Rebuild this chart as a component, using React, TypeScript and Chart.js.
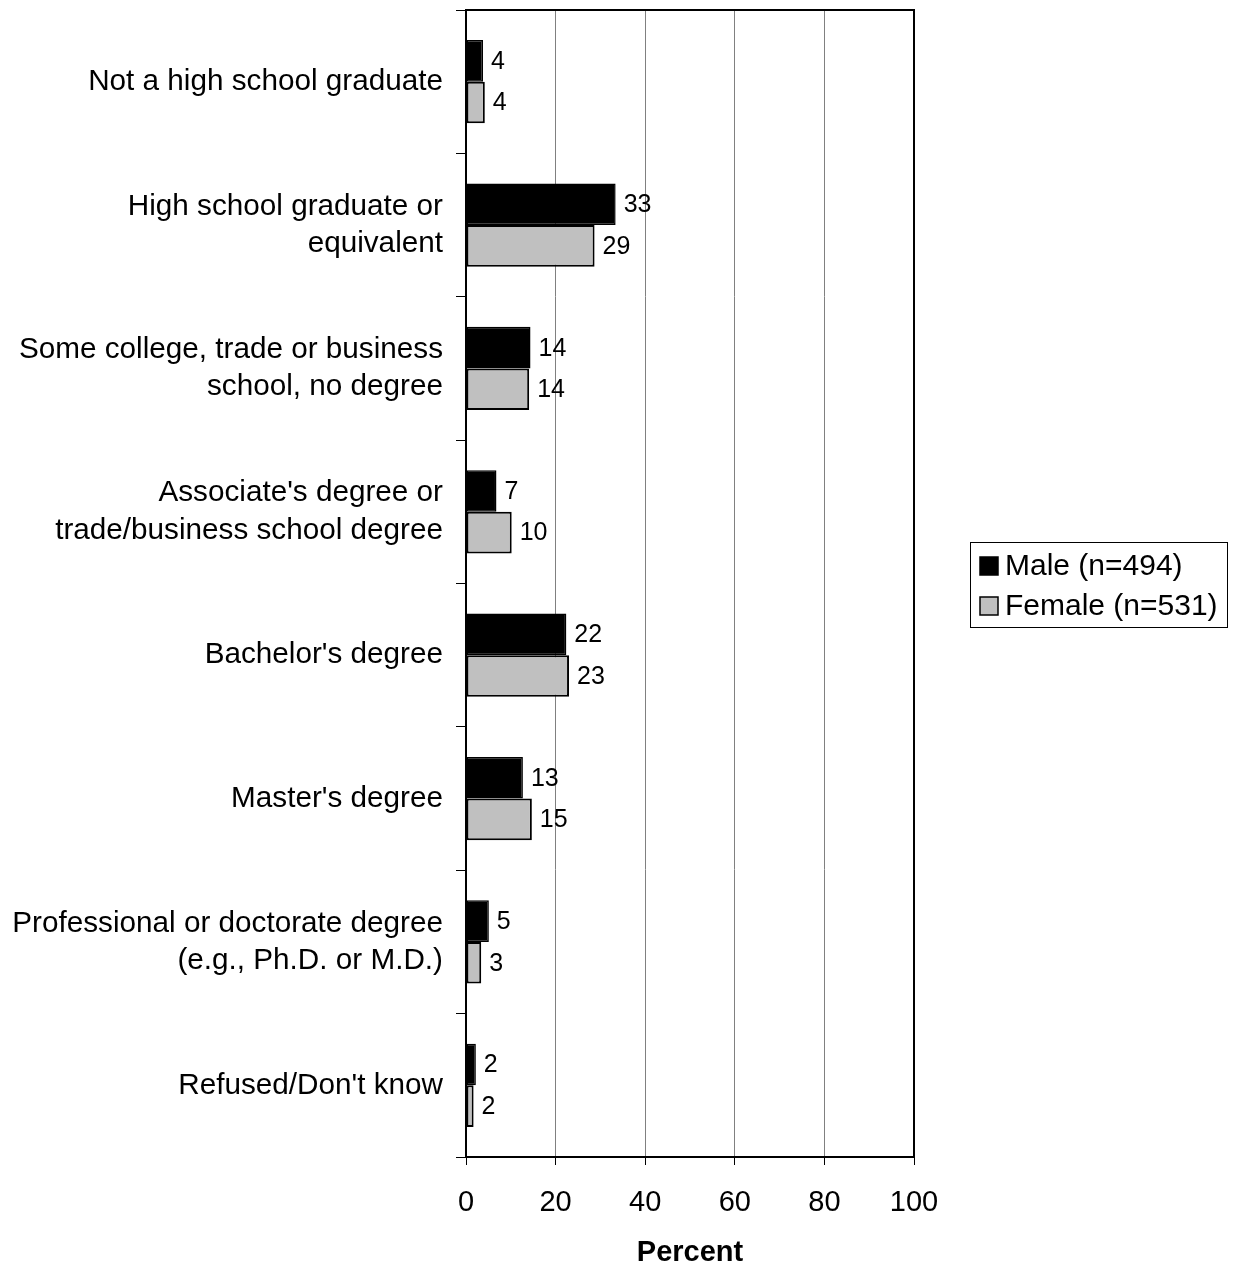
import React, { useEffect, useRef } from 'react';
import { Chart, registerables } from 'chart.js';

Chart.register(...registerables);

const categories: (string | string[])[] = [
  'Not a high school graduate',
  ['High school graduate or', 'equivalent'],
  ['Some college, trade or business', 'school, no degree'],
  ["Associate's degree or", 'trade/business school degree'],
  "Bachelor's degree",
  "Master's degree",
  ['Professional or doctorate degree', '(e.g., Ph.D. or M.D.)'],
  "Refused/Don't know",
];

const maleValues = [3.8, 33.4, 14.4, 6.8, 22.4, 12.7, 5.1, 2.2];
const femaleValues = [4.2, 28.7, 14.1, 10.2, 23.0, 14.7, 3.4, 1.7];
const maleLabels = ['4', '33', '14', '7', '22', '13', '5', '2'];
const femaleLabels = ['4', '29', '14', '10', '23', '15', '3', '2'];
const seriesNames = ['Male (n=494)', 'Female (n=531)'];
const xTicks = [0, 20, 40, 60, 80, 100];
const xTitle = 'Percent';

const FONT = '"Liberation Sans", Arial, sans-serif';

const frameAndLabels = {
  id: 'frameAndLabels',
  afterDatasetsDraw(chart: any) {
    const ctx = chart.ctx;
    const labelSets = [maleLabels, femaleLabels];
    ctx.save();
    ctx.font = `25px ${FONT}`;
    ctx.fillStyle = '#000';
    ctx.textAlign = 'left';
    ctx.textBaseline = 'middle';
    chart.data.datasets.forEach((ds: any, di: number) => {
      const meta = chart.getDatasetMeta(di);
      meta.data.forEach((el: any, i: number) => {
        ctx.fillText(labelSets[di][i], el.x + 8, el.y + 1);
      });
    });
    ctx.restore();
  },
  afterDraw(chart: any) {
    const ctx = chart.ctx;
    const a = chart.chartArea;
    ctx.save();
    ctx.strokeStyle = '#000';
    ctx.lineWidth = 2;
    ctx.beginPath();
    ctx.moveTo(a.left, a.top);
    ctx.lineTo(a.right, a.top);
    ctx.lineTo(a.right, a.bottom);
    ctx.stroke();

    // legend
    ctx.lineWidth = 1;
    ctx.strokeRect(970.5, 542.5, 257, 85);
    ctx.font = `30px ${FONT}`;
    ctx.textAlign = 'left';
    ctx.textBaseline = 'middle';
    const ys = [566, 606];
    chart.data.datasets.forEach((ds: any, di: number) => {
      const y = ys[di];
      ctx.fillStyle = ds.backgroundColor;
      ctx.fillRect(980, y - 9, 18, 18);
      ctx.strokeStyle = '#000';
      ctx.lineWidth = 1.5;
      ctx.strokeRect(980, y - 9, 18, 18);
      ctx.fillStyle = '#000';
      ctx.fillText(ds.label, 1005, y + 1);
    });
    ctx.restore();
  },
};

export default function App() {
  const ref = useRef<HTMLCanvasElement | null>(null);
  useEffect(() => {
    if (!ref.current) return;
    const chart = new Chart(ref.current, {
      type: 'bar',
      data: {
        labels: categories,
        datasets: [
          {
            label: seriesNames[0],
            data: maleValues,
            backgroundColor: '#000000',
            borderColor: '#000000',
            borderWidth: 1.5,
            borderSkipped: false,
            categoryPercentage: 0.58,
            barPercentage: 1,
          },
          {
            label: seriesNames[1],
            data: femaleValues,
            backgroundColor: '#c0c0c0',
            borderColor: '#000000',
            borderWidth: 2,
            borderSkipped: false,
            categoryPercentage: 0.58,
            barPercentage: 1,
          },
        ],
      },
      options: {
        indexAxis: 'y',
        responsive: true,
        maintainAspectRatio: false,
        animation: false,
        layout: { padding: { top: 10, right: 319, left: 0, bottom: 0 } },
        plugins: {
          legend: { display: false },
          tooltip: { enabled: false },
        },
        scales: {
          x: {
            type: 'linear',
            min: 0,
            max: 100,
            afterBuildTicks: (scale: any) => {
              scale.ticks = xTicks.map((v) => ({ value: v }));
            },
            ticks: {
              color: '#000',
              font: { family: FONT, size: 29 },
              padding: 21,
            },
            grid: {
              color: '#808080',
              lineWidth: 1,
              tickColor: '#000',
              tickLength: 8,
              drawTicks: true,
            },
            border: { color: '#000', width: 2 },
            title: {
              display: true,
              text: xTitle,
              color: '#000',
              font: { family: FONT, size: 29, weight: 'bold' },
              padding: { top: 0, bottom: -3 },
            },
            afterFit: (scale: any) => {
              scale.height = 110;
              scale.paddingLeft = 0;
              scale.paddingRight = 0;
            },
          },
          y: {
            type: 'category',
            grid: {
              drawOnChartArea: false,
              tickColor: '#000',
              tickLength: 10,
              offset: true,
              lineWidth: 1,
            },
            border: { color: '#000', width: 2 },
            ticks: {
              color: '#000',
              font: { family: FONT, size: 29.7, lineHeight: 1.25 },
              padding: 13,
            },
            afterFit: (scale: any) => {
              scale.width = 466;
              scale.paddingTop = 0;
              scale.paddingBottom = 0;
            },
          },
        },
      },
      plugins: [frameAndLabels],
    } as any);
    return () => chart.destroy();
  }, []);
  return (
    <div style={{ position: 'absolute', left: 0, top: 0, width: 1233, height: 1267, background: '#fff' }}>
      <canvas ref={ref} />
    </div>
  );
}
